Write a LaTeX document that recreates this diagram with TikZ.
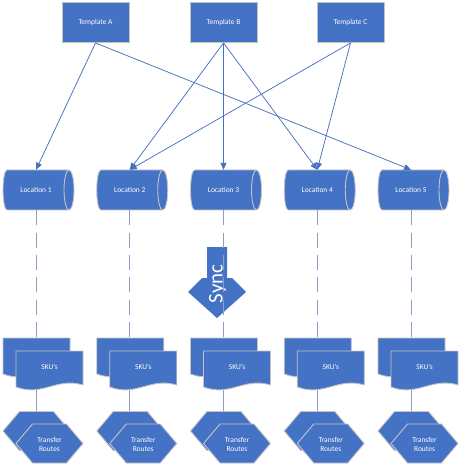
\documentclass[tikz,border=0pt]{standalone}
\usepackage{fontspec}
\setmainfont{Carlito}
\usetikzlibrary{arrows.meta}
\definecolor{shapeblue}{RGB}{68,114,196}
\definecolor{edgegray}{RGB}{196,196,200}
\definecolor{linkblue}{RGB}{72,112,192}
\definecolor{stemgray}{RGB}{140,158,198}
\begin{document}
\begin{tikzpicture}[x=1bp,y=-1bp,
  shp/.style={fill=shapeblue, draw=edgegray, line width=0.9bp, line join=round},
  lbl/.style={text=white, font=\fontsize{7.5}{9}\selectfont, align=center, inner sep=0pt},
  tmpl/.style={shp, lbl, minimum width=67bp, minimum height=40bp},
  helper/.style={inner sep=0pt, minimum width=#1},
  link/.style={draw=linkblue, line width=0.75bp, -{Triangle[length=7bp,width=6bp]}},
  stem/.style={draw=stemgray, line width=1bp},
  dashstem/.style={stem, dash pattern=on 15bp off 7.4bp}
]
\useasboundingbox (0,0) rectangle (460,467);

% templates
\node[tmpl] (TA) at (95.5,22.5) {Template A};
\node[tmpl] (TB) at (223.5,22.5) {Template B};
\node[tmpl] (TC) at (350.5,22.5) {Template C};

\foreach \i/\cx in {1/36,2/129.75,3/223.5,4/317.25,5/411} {
  % location cylinder
  \path[shp] (\cx-29,170) -- (\cx+33,170)
     arc[start angle=-90,end angle=90,x radius=5,y radius=20]
     -- (\cx-29,210)
     arc[start angle=90,end angle=270,x radius=4,y radius=20] -- cycle;
  \draw[draw=edgegray, line width=0.9bp] (\cx+33,170)
     arc[start angle=-90,end angle=-270,x radius=5,y radius=20];
  \node[lbl, minimum width=62bp, minimum height=40bp] (L\i) at (\cx,190) {Location \i};
  % SKU documents
  \path[shp] (\cx-33,338) -- (\cx+34,338) -- (\cx+34,372)
     .. controls (\cx+7.2,364) and (\cx-6.2,384) .. (\cx-33,374) -- cycle;
  \node[inner sep=0pt, minimum width=67bp, minimum height=36bp] (SB\i) at (\cx,356) {};
  \path[shp] (\cx-20,351) -- (\cx+47,351) -- (\cx+47,385)
     .. controls (\cx+20.2,377) and (\cx+6.8,397) .. (\cx-20,387) -- cycle;
  \node[lbl] (SF\i) at (\cx+13.5,367) {SKU’s};
  \coordinate (K\i) at (\cx,389.5);
  % transfer routes hexagons
  \path[shp] (\cx-33,431) -- (\cx-16.5,411.5) -- (\cx+17.5,411.5) -- (\cx+34,431)
     -- (\cx+17.5,450.5) -- (\cx-16.5,450.5) -- cycle;
  \node[inner sep=0pt, minimum width=67bp, minimum height=39bp] (HB\i) at (\cx,431) {};
  \path[shp] (\cx-20,443.5) -- (\cx-3.5,424) -- (\cx+30.5,424) -- (\cx+47,443.5)
     -- (\cx+30.5,463) -- (\cx-3.5,463) -- cycle;
  \node[lbl] (HF\i) at (\cx+13.5,444.5) {Transfer\\Routes};
}

% sync arrow
\path[fill=shapeblue] (207,247) -- (227,247) -- (227,278) -- (232,278) -- (246,292)
   -- (217,318) -- (188,292) -- (202,278) -- (207,278) -- cycle;
\node[text=white, inner sep=0pt, rotate=90, font=\fontsize{21}{21}\selectfont] (sync) at (217.5,284) {Sync};

% connectors
\foreach \i in {1,...,5} {
  \draw[dashstem] (L\i.south) -- (SB\i.north);
  \draw[stem] (K\i) -- (HB\i.north);
}
\draw[link] (TA.south) -- (L1.north);
\draw[link] (TA.south) -- (L5.north);
\draw[link] (TB.south) -- (L2.north);
\draw[link] (TB.south) -- (L3.north);
\draw[link] (TB.south) -- (L4.north);
\draw[link] (TC.south) -- (L2.north);
\draw[link] (TC.south) -- (L4.north);
\end{tikzpicture}
\end{document}
